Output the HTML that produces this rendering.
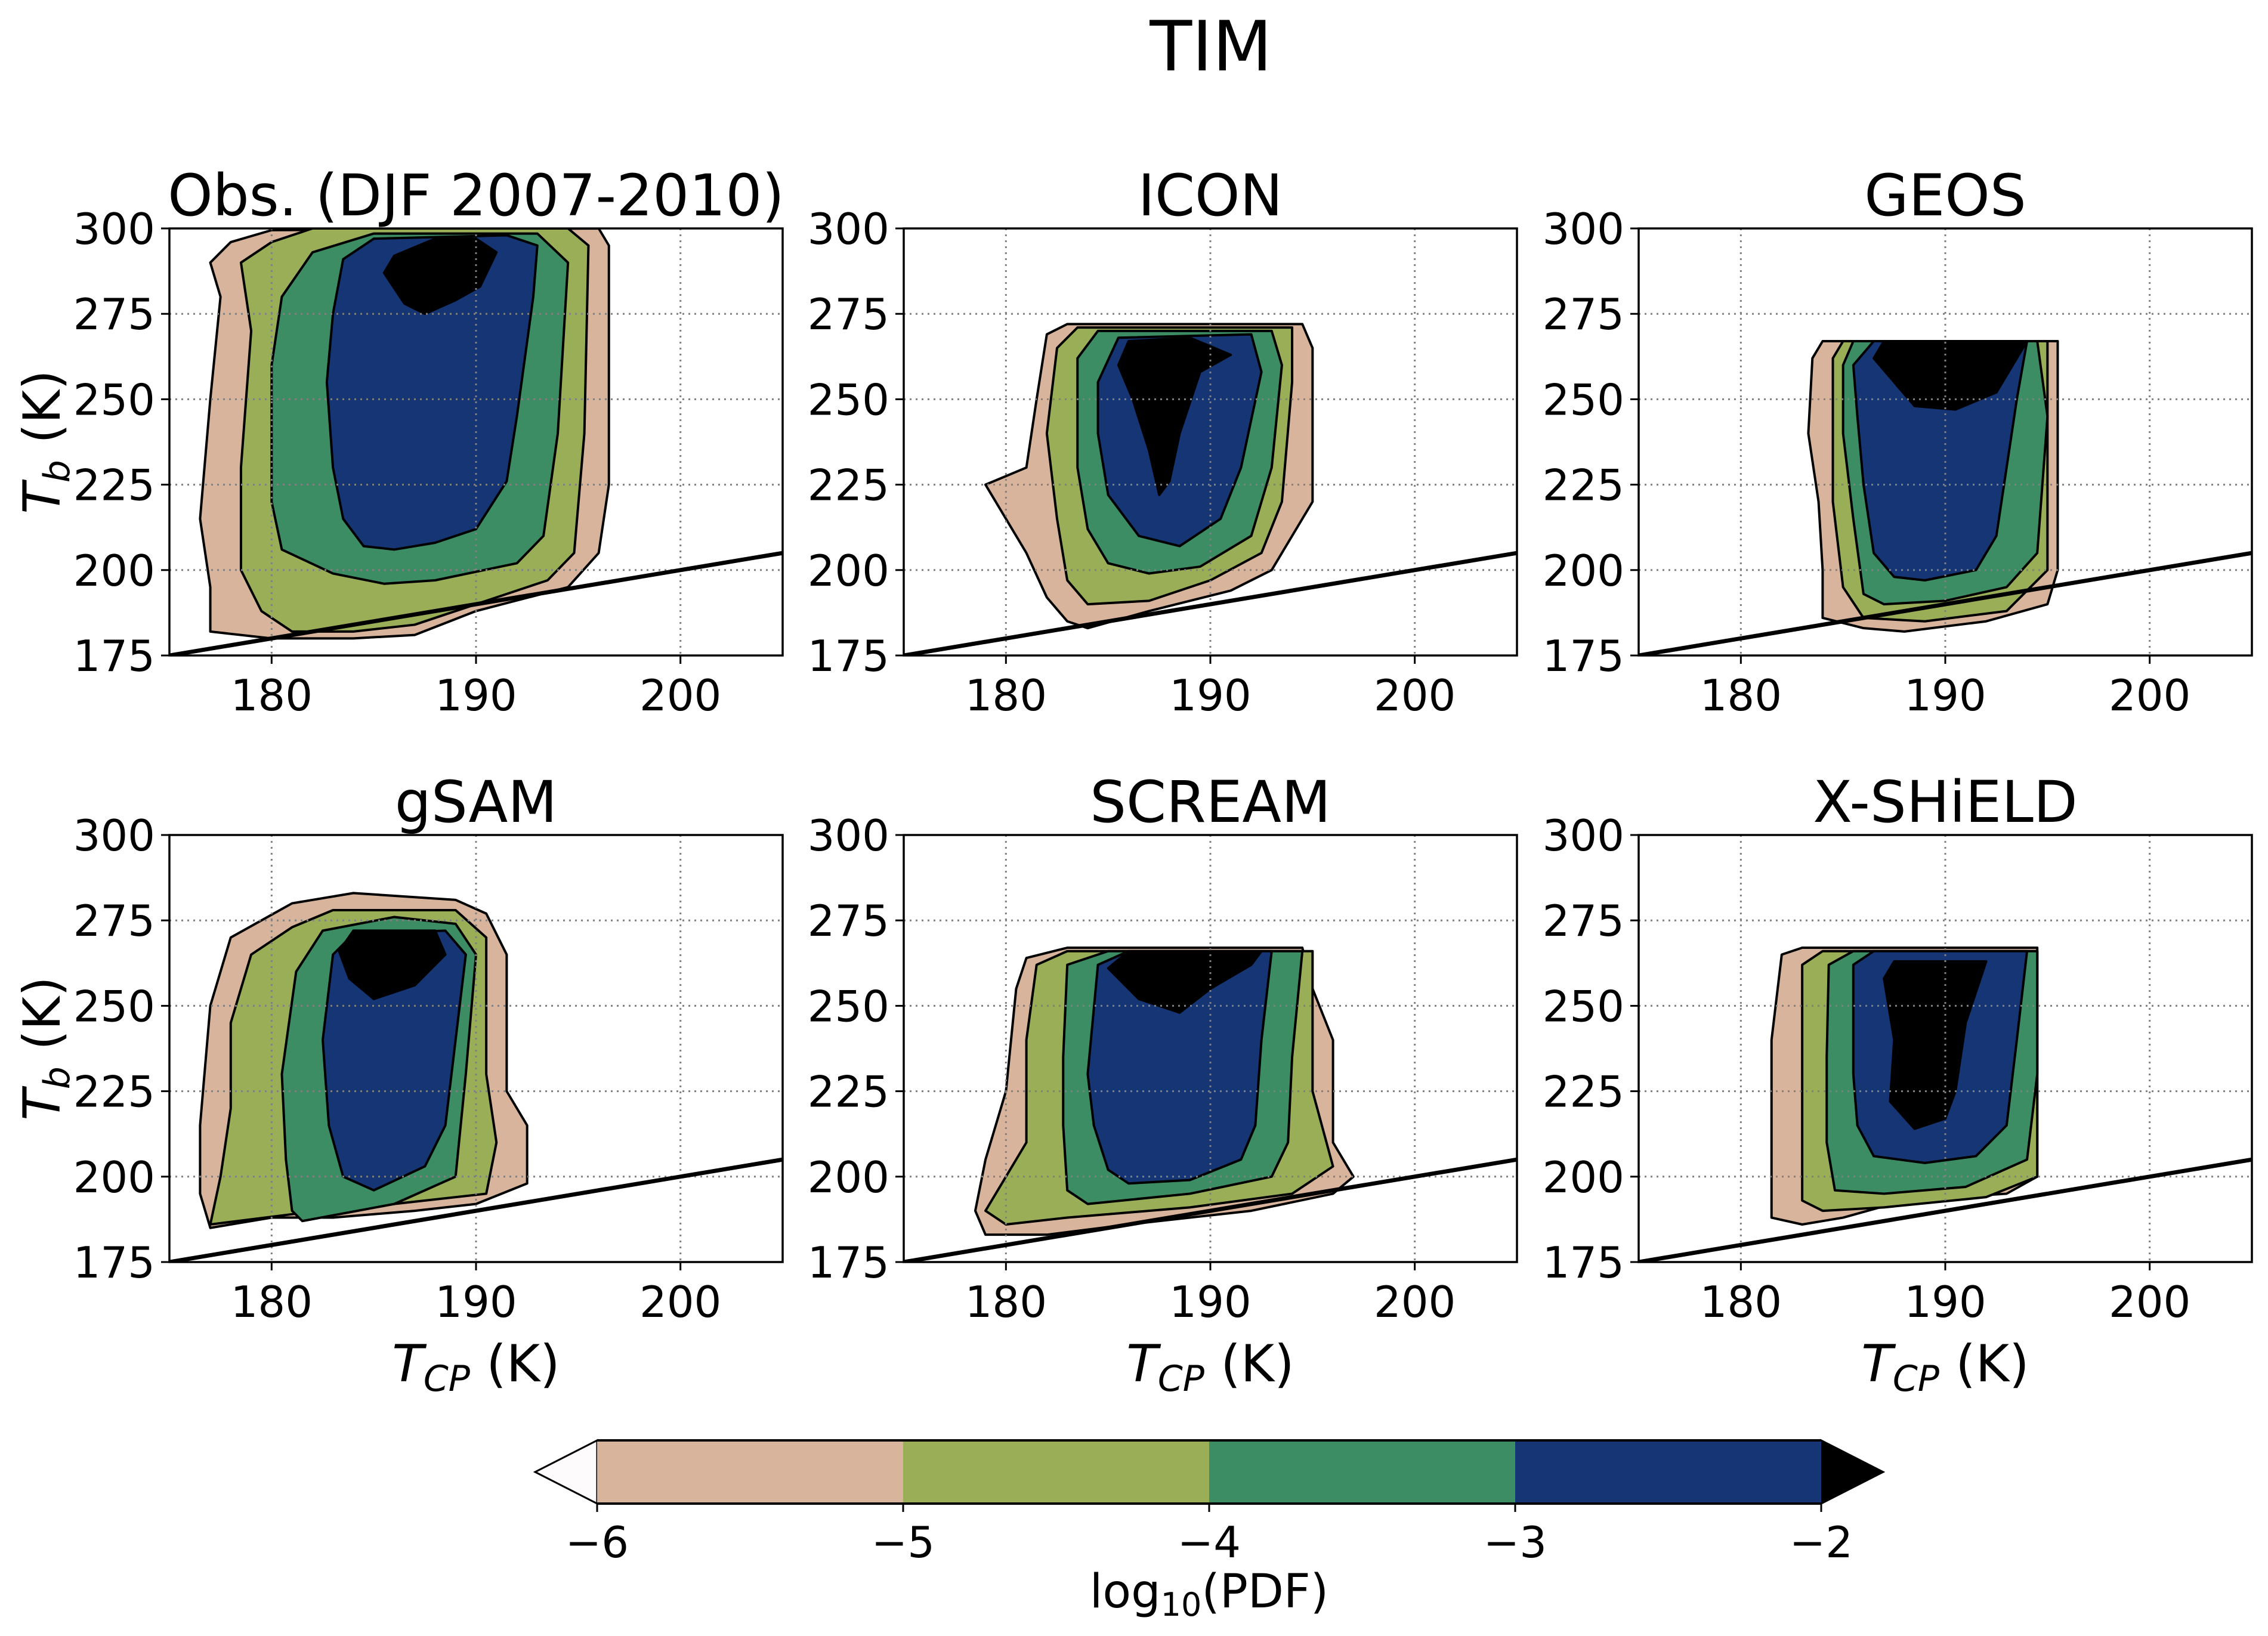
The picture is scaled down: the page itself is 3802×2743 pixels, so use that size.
<!DOCTYPE html>
<html><head><meta charset="utf-8">
<style>
html,body{margin:0;padding:0;background:#fff;}
svg{display:block;font-family:"DejaVu Sans","Liberation Sans",sans-serif;}
</style></head>
<body>
<svg id="fig" width="3802" height="2743" viewBox="0 0 3802 2743" xmlns="http://www.w3.org/2000/svg">
<rect width="3802" height="2743" fill="#fff"/>
<text x="2030" y="118" font-size="116" text-anchor="middle">TIM</text>
</svg>
<script>
const xTicks = [180, 190, 200];
const yTicks = [175, 200, 225, 250, 275, 300];
const xDomain = [175, 205];
const yDomain = [175, 300];
const cbLevels = [-6, -5, -4, -3, -2];
const cbLabels = ["\u22126", "\u22125", "\u22124", "\u22123", "\u22122"];
const levelColors = ["#d8b49c", "#9aae58", "#3c8d64", "#163574", "#000000"];
const panelTitles = ["Obs. (DJF 2007-2010)", "ICON", "GEOS", "gSAM", "SCREAM", "X-SHiELD"];
const oneToOne = [[175,175],[205,205]];

const obsTan=[[177,290],[178,296],[180,299.5],[196,300],[196.5,295],[196.5,225],[196,205],[194.5,195],[190,188],[187,181],[184,180],[180,180],[177,182],[177,195],[176.5,215],[177,250],[177.5,280]];
const obsOlive=[[178.5,290],[180,296],[182,300],[194.5,300],[195.5,295],[195.3,240],[194.8,205],[193.5,197],[190,190],[187,184],[184,182],[181,182],[179.5,188],[178.5,200],[178.5,230],[179,270]];
const obsGreen=[[180.5,280],[182,293],[185,298.5],[193,298.5],[194.5,290],[194,240],[193.3,210],[192,202],[188,197],[185.5,196],[183,199],[180.5,206],[180,220],[180,260]];
const obsNavy=[[183,275],[183.5,291],[185,297],[191.5,298],[193,295],[192.8,280],[192,245],[191.5,226],[190,212],[188,208],[186,206],[184.5,207],[183.5,215],[183,230],[182.7,255]];
const obsBlack=[[185.5,287],[186,292],[188,297],[190,297],[191,293],[190.2,283],[189,279],[187.5,275],[186.5,278]];

const iconTan=[[182,269],[183,272],[194.5,272],[195,265],[195,220],[194,210],[193,200],[191,194],[187,188],[184,183],[183,185],[182,192],[181,205],[179,225],[181,230],[181.5,250]];
const iconOlive=[[182.5,265],[183.5,271],[194,271],[194,255],[193.5,220],[192.5,205],[190,197],[187,191],[184,190],[183,197],[182.5,215],[182,240]];
const iconGreen=[[183.5,262],[184.5,270],[193,270],[193.5,260],[193,230],[192,210],[189.5,201],[187,199],[185,202],[184,212],[183.5,230]];
const iconNavy=[[184.5,255],[185.5,268],[192,269],[192.5,258],[191.5,230],[190.5,215],[188.5,207],[186.5,210],[185,222],[184.5,240]];
const iconBlack=[[185.5,260],[186,267],[189,268],[191,263],[189.5,258],[188.5,240],[188,226],[187.5,222],[187,235],[186.2,250]];

const geosTan=[[183.5,262],[184,267],[195.5,267],[195.5,200],[195,190],[192,185],[188,182],[186,183],[184,186],[184,200],[183.8,220],[183.3,240]];
const geosOlive=[[184.5,262],[185,267],[195,267],[195,200],[193,188],[189,185],[186,186],[185,195],[184.5,220]];
const geosGreen=[[185,260],[185.5,267],[194.5,267],[195,245],[194.5,205],[193,195],[190,191],[187,190],[186,193],[185.5,215],[185,240]];
const geosNavy=[[185.5,260],[186.5,267],[194,267],[193.5,250],[193,230],[192.5,210],[191.5,200],[189,197],[187.5,198],[186.5,205],[186,225],[185.7,245]];
const geosBlack=[[186.5,262],[187,267],[194,267],[193.5,262],[192.5,252],[190.5,247],[188.5,248],[187.5,255]];

const gsamTan=[[177,250],[178,270],[181,280],[184,283],[189,281],[190.5,277],[191.5,265],[191.5,225],[192.5,215],[192.5,198],[190,192],[187,190],[183,188],[180,188],[177,185],[176.5,195],[176.5,215]];
const gsamOlive=[[178,245],[179,265],[181,273],[183,278],[189,278],[190.5,270],[190.5,230],[191,210],[190.5,195],[186,192],[181,189],[177,186],[177.5,200],[178,220]];
const gsamGreen=[[180.5,230],[181.2,260],[182.5,272],[186,276],[189,274],[190,265],[189.5,230],[189,200],[186,192],[181.5,187],[181,190],[180.7,205]];
const gsamNavy=[[182.5,240],[183,265],[184,271],[188.5,272],[189.5,265],[189,240],[188.5,215],[187.5,203],[185,196],[183.5,200],[182.8,215]];
const gsamBlack=[[183.3,266],[184,272],[188,272],[188.5,265],[187,256],[185,252],[183.8,258]];

const screamTan=[[179,205],[180,225],[180.5,255],[181,264],[183,267],[194.5,267],[195,255],[196,240],[196,210],[197,200],[196,195],[192,190],[186,186],[182,183],[179,183],[178.5,190]];
const screamOlive=[[181,240],[181.5,262],[183,266],[195,266],[195,225],[196,203],[194,195],[189,191],[183,188],[180,186],[179,190],[181,210]];
const screamGreen=[[182.8,235],[183,262],[185,266],[194.5,266],[194,235],[193.8,210],[193,200],[189,195],[184,192],[183,196],[182.8,215]];
const screamNavy=[[184,230],[184.5,262],[186,266],[193,266],[192.5,240],[192.2,215],[191.5,205],[189,199],[186,198],[185,202],[184.3,215]];
const screamBlack=[[185,261],[186,266],[192.5,266],[192,262],[190,255],[188.5,248],[186.5,252]];

const xshTan=[[181.5,240],[182,265],[183,267],[194.5,267],[194.5,200],[193,195],[188,193],[185,188],[183,186],[181.5,188],[181.5,210]];
const xshOlive=[[183,240],[183,262],[184,266],[194.5,266],[194.5,200],[192,194],[187,191],[184,190],[183,193],[183,215]];
const xshGreen=[[184.2,235],[184.3,262],[185.5,266],[194.5,266],[194.5,230],[194,205],[191,197],[187,195],[184.6,196],[184.2,210]];
const xshNavy=[[185.5,230],[185.5,262],[186.5,266],[194,266],[193.5,240],[193,215],[191.5,206],[189,204],[186.5,206],[185.7,215]];
const xshBlack=[[187,258],[187.5,263],[192,263],[191,245],[190.5,225],[190,217],[188.5,214],[187.3,222],[187.5,240]];

const panelContours=[
 [obsTan,obsOlive,obsGreen,obsNavy,obsBlack],
 [iconTan,iconOlive,iconGreen,iconNavy,iconBlack],
 [geosTan,geosOlive,geosGreen,geosNavy,geosBlack],
 [gsamTan,gsamOlive,gsamGreen,gsamNavy,gsamBlack],
 [screamTan,screamOlive,screamGreen,screamNavy,screamBlack],
 [xshTan,xshOlive,xshGreen,xshNavy,xshBlack]
];
const levelNames=["tan-6","olive-5","green-4","navy-3","black-2"];

const NS="http://www.w3.org/2000/svg";
const fig=document.getElementById('fig');
function mk(tag,attrs,parent){const e=document.createElementNS(NS,tag);for(const k in attrs)e.setAttribute(k,attrs[k]);(parent||fig).appendChild(e);return e;}

const colX=[284,1515,2747], W=1028;
const rowY=[383,1400], H=716;

panelTitles.forEach((title,i)=>{
  const L=colX[i%3], T=rowY[Math.floor(i/3)];
  const sx=v=>L+(v-xDomain[0])/(xDomain[1]-xDomain[0])*W;
  const sy=v=>T+H-(v-yDomain[0])/(yDomain[1]-yDomain[0])*H;
  const g=mk('g',{});
  
  
  const cid='clip'+i;
  const cp=mk('clipPath',{id:cid},g); mk('rect',{x:L,y:T,width:W,height:H},cp);
  const plot=mk('g',{'clip-path':'url(#'+cid+')'},g);
  panelContours[i].forEach((poly,k)=>{
    const p=mk('polygon',{points:poly.map(d=>sx(d[0])+','+sy(d[1])).join(' '),fill:levelColors[k],stroke:'#000','stroke-width':4,'stroke-linejoin':'round'},plot);
    
    
  });
  xTicks.forEach(v=>{const l=mk('line',{x1:sx(v),x2:sx(v),y1:T,y2:T+H,stroke:'#808080','stroke-width':3,'stroke-dasharray':'3,7'},plot);
    });
  yTicks.forEach(v=>{const l=mk('line',{x1:L,x2:L+W,y1:sy(v),y2:sy(v),stroke:'#808080','stroke-width':3,'stroke-dasharray':'3,7'},plot);
    });
  const ln=mk('line',{x1:sx(oneToOne[0][0]),y1:sy(oneToOne[0][1]),x2:sx(oneToOne[1][0]),y2:sy(oneToOne[1][1]),stroke:'#000','stroke-width':7},plot);
  
  const fr=mk('rect',{x:L,y:T,width:W,height:H,fill:'none',stroke:'#000','stroke-width':3.5},g);
  
  xTicks.forEach(v=>{mk('line',{x1:sx(v),x2:sx(v),y1:T+H,y2:T+H+14,stroke:'#000','stroke-width':3},g);
    const t=mk('text',{x:sx(v),y:T+H+92,'font-size':72,'text-anchor':'middle'},g);t.textContent=v;
    });
  yTicks.forEach(v=>{mk('line',{x1:L-14,x2:L,y1:sy(v),y2:sy(v),stroke:'#000','stroke-width':3},g);
    const t=mk('text',{x:L-24,y:sy(v)+26,'font-size':72,'text-anchor':'end'},g);t.textContent=v;
    });
  const tt=mk('text',{x:L+W/2,y:T-22,'font-size':96,'text-anchor':'middle'},g);tt.textContent=title;
  
  if(i%3===0){
    const yl=mk('text',{x:0,y:0,'font-size':86,'text-anchor':'middle',transform:'translate(100,'+(T+H/2)+') rotate(-90)'},g);
    yl.innerHTML='<tspan font-style="italic">T</tspan><tspan font-style="italic" font-size="60" dy="16">b</tspan><tspan dy="-16"> (K)</tspan>';
    
  }
  if(i>=3){
    const xl=mk('text',{x:L+W/2,y:T+H+200,'font-size':86,'text-anchor':'middle'},g);
    xl.innerHTML='<tspan font-style="italic">T</tspan><tspan font-style="italic" font-size="60" dy="16">CP</tspan><tspan dy="-16"> (K)</tspan>';
    
  }
});

const cbL=1001, cbR=3053, cbT=2415, cbB=2521;
const cx=v=>cbL+(v-cbLevels[0])/(cbLevels[cbLevels.length-1]-cbLevels[0])*(cbR-cbL);
const cb=mk('g',{});


const lt=mk('polygon',{points:`${cbL},${cbT} 897,${(cbT+cbB)/2} ${cbL},${cbB}`,fill:'#fdfbfb',stroke:'#000','stroke-width':3},cb);

const rt=mk('polygon',{points:`${cbR},${cbT} 3157,${(cbT+cbB)/2} ${cbR},${cbB}`,fill:'#000',stroke:'#000','stroke-width':3},cb);

for(let k=0;k<cbLevels.length-1;k++){
  const r=mk('rect',{x:cx(cbLevels[k]),y:cbT,width:cx(cbLevels[k+1])-cx(cbLevels[k]),height:cbB-cbT,fill:levelColors[k]},cb);
  
}
mk('line',{x1:cbL,x2:cbR,y1:cbT,y2:cbT,stroke:'#000','stroke-width':4},cb);
mk('line',{x1:cbL,x2:cbR,y1:cbB,y2:cbB,stroke:'#000','stroke-width':4},cb);
cbLevels.forEach((v,k)=>{
  mk('line',{x1:cx(v),x2:cx(v),y1:cbB,y2:cbB+14,stroke:'#000','stroke-width':3},cb);
  const t=mk('text',{x:cx(v),y:cbB+90,'font-size':72,'text-anchor':'middle'},cb);t.textContent=cbLabels[k];
  
});
const cl=mk('text',{x:(cbL+cbR)/2,y:2695,'font-size':78,'text-anchor':'middle'},cb);
cl.innerHTML='log<tspan font-size="54" dy="14">10</tspan><tspan dy="-14">(PDF)</tspan>';

</script>
</body></html>
